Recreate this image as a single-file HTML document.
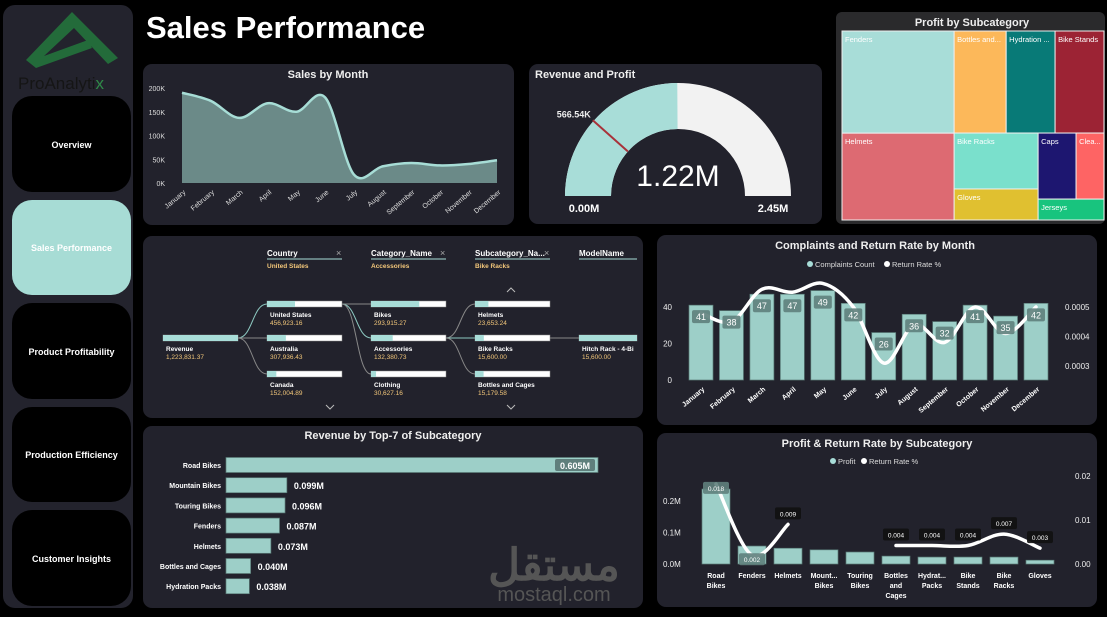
<!DOCTYPE html>
<html><head><meta charset="utf-8">
<style>
html,body{margin:0;padding:0;background:#000;width:1107px;height:617px;overflow:hidden;font-family:"Liberation Sans","DejaVu Sans",sans-serif}
svg text{font-family:"Liberation Sans","Noto Sans CJK SC",sans-serif}
</style></head>
<body>
<svg id="root" width="1107" height="617" viewBox="0 0 1107 617" xmlns="http://www.w3.org/2000/svg">
  <rect x="0" y="0" width="1107" height="617" fill="#000"/>
  <!-- sidebar -->
  <g>
    <rect x="3" y="5" width="130" height="603" rx="12" fill="#23232d"/>
    <path d="M26 60 L72 12 L118 58 L108 64 L74 28 L44 56 L88 40 L92 48 L36 68 Z" fill="#236b3a"/>
    <text x="18" y="89" font-size="17" fill="#151515">ProAnalyti<tspan fill="#2f8a48">x</tspan></text>
    <g><rect x="12" y="96" width="119" height="96" rx="20" fill="#000"/><text x="71.5" y="148" font-size="9" font-weight="bold" fill="#fff" text-anchor="middle">Overview</text></g>
    <g><rect x="12" y="200" width="119" height="95" rx="20" fill="#a7dcd5"/><text x="71.5" y="251" font-size="9" font-weight="bold" fill="#fff" text-anchor="middle">Sales Performance</text></g>
    <g><rect x="12" y="303" width="119" height="96" rx="20" fill="#000"/><text x="71.5" y="355" font-size="9" font-weight="bold" fill="#fff" text-anchor="middle">Product Profitability</text></g>
    <g><rect x="12" y="407" width="119" height="95" rx="20" fill="#000"/><text x="71.5" y="458" font-size="9" font-weight="bold" fill="#fff" text-anchor="middle">Production Efficiency</text></g>
    <g><rect x="12" y="510" width="119" height="96" rx="20" fill="#000"/><text x="71.5" y="562" font-size="9" font-weight="bold" fill="#fff" text-anchor="middle">Customer Insights</text></g>
  </g>
  <text x="146" y="38" font-size="31" font-weight="bold" fill="#fff">Sales Performance</text>

  <!-- panels -->
  <rect x="143" y="64" width="371" height="161" rx="9" fill="#22222c"/>
  <rect x="529" y="64" width="293" height="160" rx="9" fill="#22222c"/>
  <rect x="836" y="12" width="269" height="212" rx="6" fill="#2a2a2c"/>
  <rect x="143" y="236" width="500" height="182" rx="9" fill="#22222c"/>
  <rect x="657" y="235" width="440" height="190" rx="9" fill="#22222c"/>
  <rect x="143" y="426" width="500" height="182" rx="9" fill="#22222c"/>
  <rect x="657" y="433" width="440" height="174" rx="9" fill="#22222c"/>

  <text x="328" y="78" font-size="11" font-weight="bold" fill="#eee" text-anchor="middle">Sales by Month</text>
  <text x="535" y="78" font-size="11" font-weight="bold" fill="#eee">Revenue and Profit</text>
  <text x="972" y="26" font-size="11" font-weight="bold" fill="#eee" text-anchor="middle">Profit by Subcategory</text>
  <text x="875" y="249" font-size="11" font-weight="bold" fill="#eee" text-anchor="middle">Complaints and Return Rate by Month</text>
  <text x="393" y="439" font-size="11" font-weight="bold" fill="#eee" text-anchor="middle">Revenue by Top-7 of Subcategory</text>
  <text x="877" y="447" font-size="11" font-weight="bold" fill="#eee" text-anchor="middle">Profit &amp; Return Rate by Subcategory</text>

  <g id="salesG"></g>
  <g id="gaugeG"></g>
  <g id="treeG"></g>
  <g id="decompG"></g>
  <g id="complG"></g>
  <g id="revG"></g>
  <g id="profG"></g>

  <g>
    <text x="554" y="580" font-size="44" font-weight="bold" fill="#555" text-anchor="middle" font-family="DejaVu Sans, sans-serif">مستقل</text>
    <text x="554" y="601" font-size="20" fill="#555" text-anchor="middle">mostaql.com</text>
  </g>
</svg>
<script>
const NS='http://www.w3.org/2000/svg';
function mk(parent,tag,attrs,txt){const e=document.createElementNS(NS,tag);for(const k in attrs)e.setAttribute(k,attrs[k]);if(txt!==undefined)e.textContent=txt;parent.appendChild(e);return e;}
function smooth(pts){if(pts.length<2)return '';let d='M'+pts[0][0]+' '+pts[0][1];for(let i=0;i<pts.length-1;i++){const p0=pts[i-1]||pts[i],p1=pts[i],p2=pts[i+1],p3=pts[i+2]||p2;const c1=[p1[0]+(p2[0]-p0[0])/6,p1[1]+(p2[1]-p0[1])/6],c2=[p2[0]-(p3[0]-p1[0])/6,p2[1]-(p3[1]-p1[1])/6];d+=` C${c1[0]} ${c1[1]} ${c2[0]} ${c2[1]} ${p2[0]} ${p2[1]}`;}return d;}

// ---------- Sales by Month ----------
const salesMonths=['January','February','March','April','May','June','July','August','September','October','November','December'];
const salesValues=[190,173,137,168,150,180,18,35,42,37,40,48];
const salesTicks=[0,50,100,150,200];
(function(){
const g=document.getElementById('salesG');
const x=i=>182+i*(497-182)/11, y=v=>183-v*(183-88)/200;
salesTicks.forEach(t=>{const e=mk(g,'text',{x:165,y:y(t)+3,'font-size':7,fill:'#ddd','text-anchor':'end'},t+'K');

});
const pts=salesValues.map((v,i)=>[x(i),y(v)]);
const line=smooth(pts);
const area=mk(g,'path',{d:line+` L${x(11)} ${y(0)} L${x(0)} ${y(0)} Z`,fill:'#6b8a88'});


const l=mk(g,'path',{d:line,fill:'none',stroke:'#a7ddd6','stroke-width':2.5});


salesMonths.forEach((m,i)=>{const e=mk(g,'text',{x:x(i)+4,y:193,'font-size':7,fill:'#ddd','text-anchor':'end',transform:`rotate(-40 ${x(i)+4} 193)`},m);

});
})();

// ---------- Gauge ----------
const gaugeValue=[1.22];
const gaugeMax=[2.45];
const gaugeTarget=[0.56654];
(function(){
const g=document.getElementById('gaugeG');
const cx=678,cy=196,R=113,r=67;
const pt=(f,rad)=>[cx-rad*Math.cos(Math.PI*f),cy-rad*Math.sin(Math.PI*f)];
function arc(f0,f1){const a=pt(f0,R),b=pt(f1,R),c=pt(f1,r),d=pt(f0,r);return `M${a[0]} ${a[1]} A${R} ${R} 0 0 1 ${b[0]} ${b[1]} L${c[0]} ${c[1]} A${r} ${r} 0 0 0 ${d[0]} ${d[1]} Z`;}
const bg=mk(g,'path',{d:arc(0,1),fill:'#f2f2f2'});


const fg=mk(g,'path',{d:arc(0,gaugeValue[0]/gaugeMax[0]),fill:'#a8ddd8'});


const tf=gaugeTarget[0]/gaugeMax[0];const a=pt(tf,R+1),b=pt(tf,r);
const tl=mk(g,'line',{x1:a[0],y1:a[1],x2:b[0],y2:b[1],stroke:'#a8323a','stroke-width':2});


const t1=mk(g,'text',{x:a[0]-2,y:a[1]-3,'font-size':9,'font-weight':'bold',fill:'#eee','text-anchor':'end'},(gaugeTarget[0]*1000).toFixed(2)+'K');


const t2=mk(g,'text',{x:cx,y:186,'font-size':30,fill:'#fff','text-anchor':'middle'},gaugeValue[0].toFixed(2)+'M');


const t3=mk(g,'text',{x:584,y:212,'font-size':11,'font-weight':'bold',fill:'#fff','text-anchor':'middle'},'0.00M');


const t4=mk(g,'text',{x:773,y:212,'font-size':11,'font-weight':'bold',fill:'#fff','text-anchor':'middle'},gaugeMax[0].toFixed(2)+'M');


})();

// ---------- Treemap ----------
const treeNames=['Fenders','Helmets','Bottles and...','Hydration ...','Bike Stands','Bike Racks','Gloves','Caps','Clea...','Jerseys'];
const treeValues=[46.6,39.6,21.6,20.3,20.3,19.1,10.6,10.2,7.5,5.6];
const treeColors=['#a8ddd8','#dd6a72','#fcb85a','#087a77','#9c2334','#7ae0cc','#e0c030','#1d1670','#fe6464','#18c47e'];
(function(){
const g=document.getElementById('treeG');
const V=treeValues,sum=a=>a.reduce((s,i)=>s+V[i],0);
const rects=[];
function split(items,x,y,w,h,dir){ // items: array of index or nested arrays
  const vals=items.map(it=>Array.isArray(it)?sum(it.flat(3)):V[it]);const tot=vals.reduce((a,b)=>a+b,0);let off=0;
  items.forEach((it,k)=>{const f=vals[k]/tot;let rx,ry,rw,rh;
    if(dir==='h'){rx=x+off*w;ry=y;rw=f*w;rh=h;}else{rx=x;ry=y+off*h;rw=w;rh=f*h;}off+=f;
    if(Array.isArray(it))split(it,rx,ry,rw,rh,dir==='h'?'v':'h');else rects.push([it,rx,ry,rw,rh]);});
}
split([[0,1],[[2,3,4],[[5,6],[[7,8],9]]]],842,31,262,189,'h');
rects.forEach(([i,x,y,w,h])=>{
  const r=mk(g,'rect',{x:x,y:y,width:w,height:h,fill:treeColors[i],stroke:'#eee','stroke-width':1});
  
  
  const t=mk(g,'text',{x:x+3,y:y+11,'font-size':7.5,fill:'#fff'},treeNames[i]);
  
  
});
})();

// ---------- Decomposition tree ----------
const decompHeaders=['Country','Category_Name','Subcategory_Na...','ModelName'];
const decompFilters=['United States','Accessories','Bike Racks',''];
const decompRoot=['Revenue',1223831.37];
const decompCountry=[['United States',456923.16],['Australia',307936.43],['Canada',152004.89]];
const decompCategory=[['Bikes',293915.27],['Accessories',132380.73],['Clothing',30627.16]];
const decompSub=[['Helmets',23653.24],['Bike Racks',15600.00],['Bottles and Cages',15179.58]];
const decompModel=[['Hitch Rack - 4-Bi',15600.00]];
(function(){
const g=document.getElementById('decompG');
const colX=[267,371,475,579],bw=75,rowY=[304,338,374];
const fmt=v=>v.toLocaleString('en-US',{minimumFractionDigits:2,maximumFractionDigits:2});
decompHeaders.forEach((h,i)=>{
 const t=mk(g,'text',{x:colX[i],y:256,'font-size':8,'font-weight':'bold',fill:'#fff'},h);
 
 
 mk(g,'line',{x1:colX[i],y1:259,x2:colX[i]+(i===3?58:75),y2:259,stroke:'#a8ddd8','stroke-width':1});
 if(i<3){const x=mk(g,'text',{x:colX[i]+69,y:256,'font-size':9,fill:'#aaa'},'×');
 
 }
 const f=mk(g,'text',{x:colX[i],y:268,'font-size':6.5,'font-weight':'bold',fill:'#f3c77a'},decompFilters[i]);
 
 
});
function node(x,y,w,name,val,max){
 const b=mk(g,'rect',{x:x,y:y-3,width:w,height:6,fill:'#fff',stroke:'#888','stroke-width':0.5});
 
 
 const f=mk(g,'rect',{x:x,y:y-3,width:w*val/max,height:6,fill:'#a8ddd8'});
 
 
 const t=mk(g,'text',{x:x+3,y:y+13,'font-size':6.5,'font-weight':'bold',fill:'#fff'},name);
 
 
 const v=mk(g,'text',{x:x+3,y:y+21,'font-size':6.5,fill:'#f3c77a'},fmt(val));
 
 
}
function link(x1,y1,x2,y2,hl){const m=(x1+x2)/2;const p=mk(g,'path',{d:`M${x1} ${y1} C${m} ${y1} ${m} ${y2} ${x2} ${y2}`,fill:'none',stroke:hl?'#8cc8c0':'#888','stroke-width':1});

}
decompCountry.forEach((c,i)=>link(238,338,267,rowY[i],i===0));
decompCategory.forEach((c,i)=>link(342,304,371,rowY[i],i===1));
decompSub.forEach((c,i)=>link(446,338,475,rowY[i],i===1));
link(550,338,579,338,false);
node(163,338,75,decompRoot[0],decompRoot[1],decompRoot[1]);
decompCountry.forEach((c,i)=>node(colX[0],rowY[i],bw,c[0],c[1],decompRoot[1]));
decompCategory.forEach((c,i)=>node(colX[1],rowY[i],bw,c[0],c[1],decompCountry[0][1]));
decompSub.forEach((c,i)=>node(colX[2],rowY[i],bw,c[0],c[1],decompCategory[1][1]));
decompModel.forEach((c,i)=>node(colX[3],338,58,c[0],c[1],c[1]));
[[511,290,'M-4 2 L0 -2 L4 2'],[330,407,'M-4 -2 L0 2 L4 -2'],[511,407,'M-4 -2 L0 2 L4 -2']].forEach(a=>{const p=mk(g,'path',{d:a[2],transform:`translate(${a[0]} ${a[1]})`,fill:'none',stroke:'#bbb','stroke-width':1});

});
})();

// ---------- Complaints & Return Rate ----------
const complMonths=['January','February','March','April','May','June','July','August','September','October','November','December'];
const complCounts=[41,38,47,47,49,42,26,36,32,41,35,42];
const complRate=[0.00048,0.00045,0.00056,0.00055,0.00058,0.00050,0.00031,0.00044,0.00038,0.00050,0.00041,0.00050];
const complLeftTicks=[0,20,40];
const complRightTicks=[0.0003,0.0004,0.0005];
(function(){
const g=document.getElementById('complG');
const x=i=>701+i*(1036-701)/11, y=v=>380-v*(380-307)/40, y2=v=>366-(v-0.0003)*(366-307)/0.0002;
const leg=mk(g,'g',{});


mk(leg,'circle',{cx:810,cy:264,r:3,fill:'#a8ddd8'});mk(leg,'text',{x:815,y:267,'font-size':7.5,fill:'#ddd'},'Complaints Count');
mk(leg,'circle',{cx:887,cy:264,r:3,fill:'#fff'});mk(leg,'text',{x:892,y:267,'font-size':7.5,fill:'#ddd'},'Return Rate %');
complLeftTicks.forEach(t=>{const e=mk(g,'text',{x:672,y:y(t)+3,'font-size':8,fill:'#eee','text-anchor':'end'},t);

});
complRightTicks.forEach(t=>{const e=mk(g,'text',{x:1065,y:y2(t)+3,'font-size':8,fill:'#eee'},t.toFixed(4));

});
complCounts.forEach((v,i)=>{const b=mk(g,'rect',{x:x(i)-12,y:y(v),width:24,height:y(0)-y(v),fill:'#9dcfc8',stroke:'#5a7c78','stroke-width':0.7});

});
const l=mk(g,'path',{d:smooth(complRate.map((v,i)=>[x(i),y2(v)])),fill:'none',stroke:'#fff','stroke-width':3.5,'stroke-linecap':'round'});


complCounts.forEach((v,i)=>{const ly=y(v)+12;const r=mk(g,'rect',{x:x(i)-9,y:ly-7,width:18,height:13,rx:2,fill:'#5f7f7c',opacity:0.9});


const t=mk(g,'text',{x:x(i),y:ly+3,'font-size':9,fill:'#fff','text-anchor':'middle'},v);

});
complMonths.forEach((m,i)=>{const e=mk(g,'text',{x:x(i)+4,y:390,'font-size':7,'font-weight':'bold',fill:'#fff','text-anchor':'end',transform:`rotate(-40 ${x(i)+4} 390)`},m);

});
})();

// ---------- Revenue top-7 ----------
const revNames=['Road Bikes','Mountain Bikes','Touring Bikes','Fenders','Helmets','Bottles and Cages','Hydration Packs'];
const revValues=[0.605,0.099,0.096,0.087,0.073,0.040,0.038];
(function(){
const g=document.getElementById('revG');
const x=v=>226+v*(598-226)/0.605, y=i=>465+i*20.2;
revNames.forEach((n,i)=>{
 const t=mk(g,'text',{x:221,y:y(i)+3,'font-size':7,'font-weight':'bold',fill:'#fff','text-anchor':'end'},n);
 
 
 const b=mk(g,'rect',{x:226,y:y(i)-7.5,width:x(revValues[i])-226,height:15,fill:'#9dcfc8',stroke:'#5a7c78','stroke-width':0.7});
 
 
 const lbl=revValues[i].toFixed(3)+'M';
 if(i===0){const r=mk(g,'rect',{x:x(revValues[i])-43,y:y(i)-6,width:40,height:12,rx:2,fill:'#5f7f7c'});
 
 
 const e=mk(g,'text',{x:x(revValues[i])-23,y:y(i)+4,'font-size':9,'font-weight':'bold',fill:'#fff','text-anchor':'middle'},lbl);
 
 }
 else{const e=mk(g,'text',{x:x(revValues[i])+7,y:y(i)+4,'font-size':9,'font-weight':'bold',fill:'#fff'},lbl);
 
 }
});
})();

// ---------- Profit & Return Rate ----------
const profNames=[['Road','Bikes'],['Fenders'],['Helmets'],['Mount...','Bikes'],['Touring','Bikes'],['Bottles','and','Cages'],['Hydrat...','Packs'],['Bike','Stands'],['Bike','Racks'],['Gloves']];
const profValues=[0.238,0.057,0.050,0.045,0.038,0.025,0.022,0.022,0.022,0.012];
const profRate=[0.0182,0.002,0.009,null,null,0.0042,0.0042,0.0042,0.0068,0.0036];
const profRateLabels=['0.018','0.002','0.009','','','0.004','0.004','0.004','0.007','0.003'];
const profLeftTicks=[0,0.1,0.2];
const profRightTicks=[0,0.01,0.02];
(function(){
const g=document.getElementById('profG');
const x=i=>716+i*36, y=v=>564-v*(564-501)/0.2, y2=v=>564-v*(564-476)/0.02;
const leg=mk(g,'g',{});


mk(leg,'circle',{cx:833,cy:461,r:3,fill:'#a8ddd8'});mk(leg,'text',{x:838,y:464,'font-size':7.5,fill:'#ddd'},'Profit');
mk(leg,'circle',{cx:864,cy:461,r:3,fill:'#fff'});mk(leg,'text',{x:869,y:464,'font-size':7.5,fill:'#ddd'},'Return Rate %');
profLeftTicks.forEach(t=>{const e=mk(g,'text',{x:663,y:y(t)+3,'font-size':8,fill:'#eee'},t.toFixed(1)+'M');

});
profRightTicks.forEach(t=>{const e=mk(g,'text',{x:1075,y:y2(t)+3,'font-size':8,fill:'#eee'},t.toFixed(2));

});
profValues.forEach((v,i)=>{const b=mk(g,'rect',{x:x(i)-14,y:y(v),width:28,height:y(0)-y(v),fill:'#9dcfc8',stroke:'#5a7c78','stroke-width':0.7});


profNames[i].forEach((ln,k)=>{const t=mk(g,'text',{x:x(i),y:578+k*10,'font-size':7,'font-weight':'bold',fill:'#fff','text-anchor':'middle'},ln);

});});
let seg=[];const segs=[];profRate.forEach((v,i)=>{if(v===null){if(seg.length)segs.push(seg);seg=[];}else seg.push([x(i),y2(v)]);});if(seg.length)segs.push(seg);
segs.forEach(s=>{const p=mk(g,'path',{d:smooth(s),fill:'none',stroke:'#fff','stroke-width':3.5,'stroke-linecap':'round'});

});
profRate.forEach((v,i)=>{if(v===null)return;const ly=(i===0||i===1)?y2(v)+4:y2(v)-11;
const r=mk(g,'rect',{x:x(i)-13,y:ly-6,width:26,height:12,rx:2,fill:(i<2)?'#5f7f7c':'#111',opacity:0.9});


const t=mk(g,'text',{x:x(i),y:ly+3,'font-size':6.5,fill:'#fff','text-anchor':'middle'},profRateLabels[i]);

});
})();
</script>
</body></html>
